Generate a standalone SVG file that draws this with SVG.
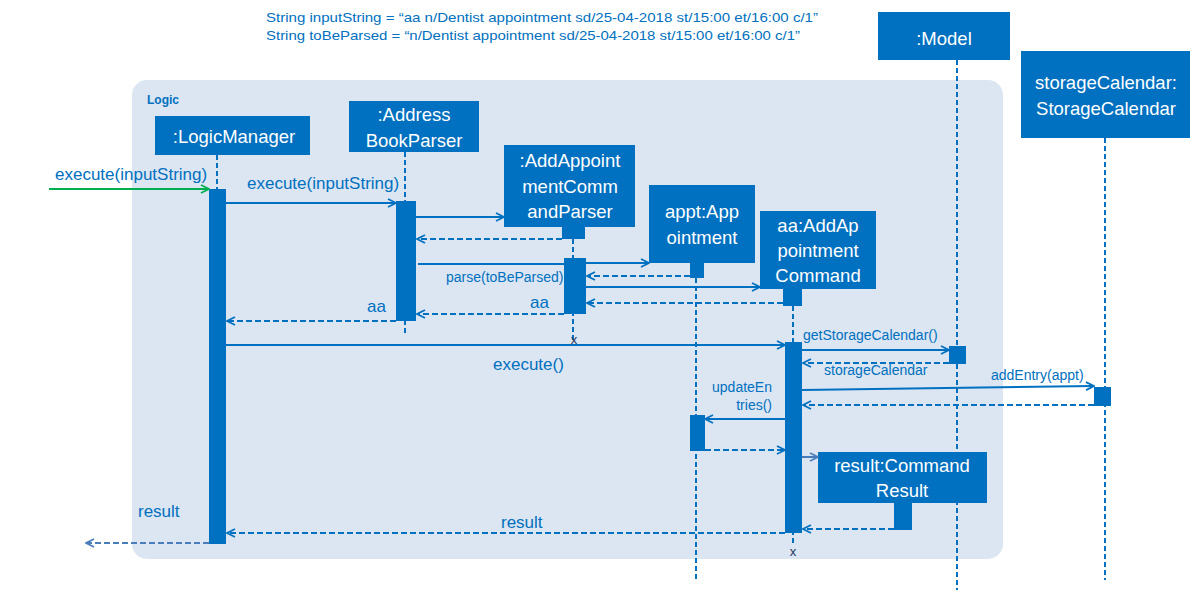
<svg xmlns="http://www.w3.org/2000/svg" width="1190" height="597" viewBox="0 0 1190 597">
<style>
text{font-family:"Liberation Sans",Arial,sans-serif}
.box{fill:#0070c0}
.bt{fill:#fff;font-size:18.5px;text-anchor:middle}
.bar{fill:#0070c0}
.life{stroke:#0070c0;stroke-width:2;stroke-dasharray:5 3;fill:none}
.msg{stroke:#0070c0;stroke-width:2;fill:none;marker-end:url(#arr)}
.ret{stroke:#0070c0;stroke-width:2;fill:none;stroke-dasharray:6 3;marker-end:url(#arr)}
.lt{stroke:#4a7ebb;stroke-width:2;fill:none;marker-end:url(#arrL)}
.lbl{fill:#0070c0;font-size:17px}
.sl{fill:#0070c0;font-size:14px}
.nt{fill:#0070c0;font-size:13px}
.x{fill:#1f3864;font-size:13px;text-anchor:middle}
</style>
<defs>
<marker id="arr" viewBox="0 0 10 10" refX="9" refY="5" markerWidth="10" markerHeight="10" markerUnits="userSpaceOnUse" orient="auto"><path d="M1,1 L9,5 L1,9" fill="none" stroke="#0070c0" stroke-width="1.8"/></marker>
<marker id="arrL" viewBox="0 0 10 10" refX="9" refY="5" markerWidth="10" markerHeight="10" markerUnits="userSpaceOnUse" orient="auto"><path d="M1,1 L9,5 L1,9" fill="none" stroke="#4a7ebb" stroke-width="1.8"/></marker>
<marker id="arrG" viewBox="0 0 10 10" refX="9" refY="5" markerWidth="10" markerHeight="10" markerUnits="userSpaceOnUse" orient="auto"><path d="M1,1 L9,5 L1,9" fill="none" stroke="#00b050" stroke-width="1.8"/></marker>
</defs>
<rect width="1190" height="597" fill="#fff"/>
<g id="notes">
<text class="nt" x="266" y="22" textLength="552" lengthAdjust="spacingAndGlyphs">String inputString = “aa n/Dentist appointment sd/25-04-2018 st/15:00 et/16:00 c/1”</text>
<text class="nt" x="266" y="40" textLength="534" lengthAdjust="spacingAndGlyphs">String toBeParsed = “n/Dentist appointment sd/25-04-2018 st/15:00 et/16:00 c/1”</text>
</g>
<g id="logic-frame">
<rect x="132" y="80" width="871" height="479" rx="15" fill="#dce6f2"/>
<text x="147" y="104" fill="#0070c0" font-size="12" font-weight="bold">Logic</text>
</g>
<g id="lifelines">
<path class="life" d="M217,155 V189 M405,152 V333 M573,239 V340 M696,278 V580 M793,306 V546 M957,60 V590 M1105,138 V580"/>
</g>
<g id="logicManager">
<rect class="box" x="155" y="116" width="155" height="39"/>
<text class="bt" x="234" y="143">:LogicManager</text>
<rect class="bar" x="209" y="189" width="17" height="355"/>
</g>
<g id="addressBookParser">
<rect class="box" x="349" y="101" width="130" height="51"/>
<text class="bt" x="414" y="121">:Address</text>
<text class="bt" x="414" y="147">BookParser</text>
<rect class="bar" x="396" y="201" width="20" height="120"/>
</g>
<g id="addAppointmentCommandParser">
<rect class="box" x="504" y="145" width="131" height="82"/>
<text class="bt" x="570" y="167">:AddAppoint</text>
<text class="bt" x="570" y="193">mentComm</text>
<text class="bt" x="570" y="218">andParser</text>
<rect class="bar" x="562" y="226" width="23" height="13"/>
<rect class="bar" x="564" y="258" width="22" height="56"/>
<text class="x" x="574" y="344">x</text>
</g>
<g id="appointment">
<rect class="box" x="649" y="185" width="106" height="78"/>
<text class="bt" x="702" y="218">appt:App</text>
<text class="bt" x="702" y="244">ointment</text>
<rect class="bar" x="690" y="262" width="14" height="16"/>
<rect class="bar" x="690" y="415" width="15" height="36"/>
</g>
<g id="addAppointmentCommand">
<rect class="box" x="760" y="211" width="116" height="78"/>
<text class="bt" x="818" y="232">aa:AddAp</text>
<text class="bt" x="818" y="257">pointment</text>
<text class="bt" x="818" y="282">Command</text>
<rect class="bar" x="783" y="288" width="19" height="18"/>
<rect class="bar" x="785" y="342" width="17" height="191"/>
<text class="x" x="793" y="556">x</text>
</g>
<g id="model">
<rect class="box" x="878" y="12" width="132" height="48"/>
<text class="bt" x="944" y="45">:Model</text>
<rect class="bar" x="949" y="346" width="17" height="18"/>
</g>
<g id="storageCalendar">
<rect class="box" x="1021" y="51" width="169" height="87"/>
<text class="bt" x="1106" y="89">storageCalendar:</text>
<text class="bt" x="1106" y="115">StorageCalendar</text>
<rect class="bar" x="1094" y="387" width="17" height="19"/>
</g>
<g id="commandResult">
<rect class="box" x="818" y="452" width="169" height="51"/>
<text class="bt" x="902" y="472">result:Command</text>
<text class="bt" x="902" y="497">Result</text>
<rect class="bar" x="894" y="502" width="18" height="28"/>
</g>
<g id="connectors">
<path d="M49,189 H209" stroke="#00b050" stroke-width="2" fill="none" marker-end="url(#arrG)"/>
<path class="msg" d="M226,203 H396"/>
<path class="msg" d="M416,217 H504"/>
<path class="ret" d="M562,239 H417"/>
<path d="M418,264 H564" stroke="#0070c0" stroke-width="2" fill="none"/>
<path class="msg" d="M586,263 H649"/>
<path class="ret" d="M690,276 H587"/>
<path class="msg" d="M586,287 H760"/>
<path class="ret" d="M783,303 H587"/>
<path class="ret" d="M564,314 H417"/>
<path class="ret" d="M396,321 H227"/>
<path class="msg" d="M226,345 H785"/>
<path class="msg" d="M802,350 H949"/>
<path class="ret" d="M949,363 H803"/>
<path class="msg" d="M802,390 L1094,386"/>
<path class="ret" d="M1094,405 H803"/>
<path class="msg" d="M785,419 H705"/>
<path class="ret" d="M705,450 H785"/>
<path class="lt" d="M802,457 H818"/>
<path class="ret" d="M894,529 H803"/>
<path class="ret" d="M785,533 H227"/>
<path class="lt" d="M209,543 H86" stroke-dasharray="6 3"/>
<text class="lbl" x="55" y="180">execute(inputString)</text>
<text class="lbl" x="247" y="189">execute(inputString)</text>
<text class="sl" x="446" y="282">parse(toBeParsed)</text>
<text class="lbl" x="530" y="308">aa</text>
<text class="lbl" x="367" y="312">aa</text>
<text class="lbl" x="493" y="370">execute()</text>
<text class="sl" x="803" y="340">getStorageCalendar()</text>
<text class="sl" x="824" y="375">storageCalendar</text>
<text class="sl" x="991" y="380">addEntry(appt)</text>
<text class="sl" x="772" y="392" text-anchor="end">updateEn</text>
<text class="sl" x="772" y="410" text-anchor="end">tries()</text>
<text class="lbl" x="138" y="517">result</text>
<text class="lbl" x="501" y="528">result</text>
</g>
</svg>
